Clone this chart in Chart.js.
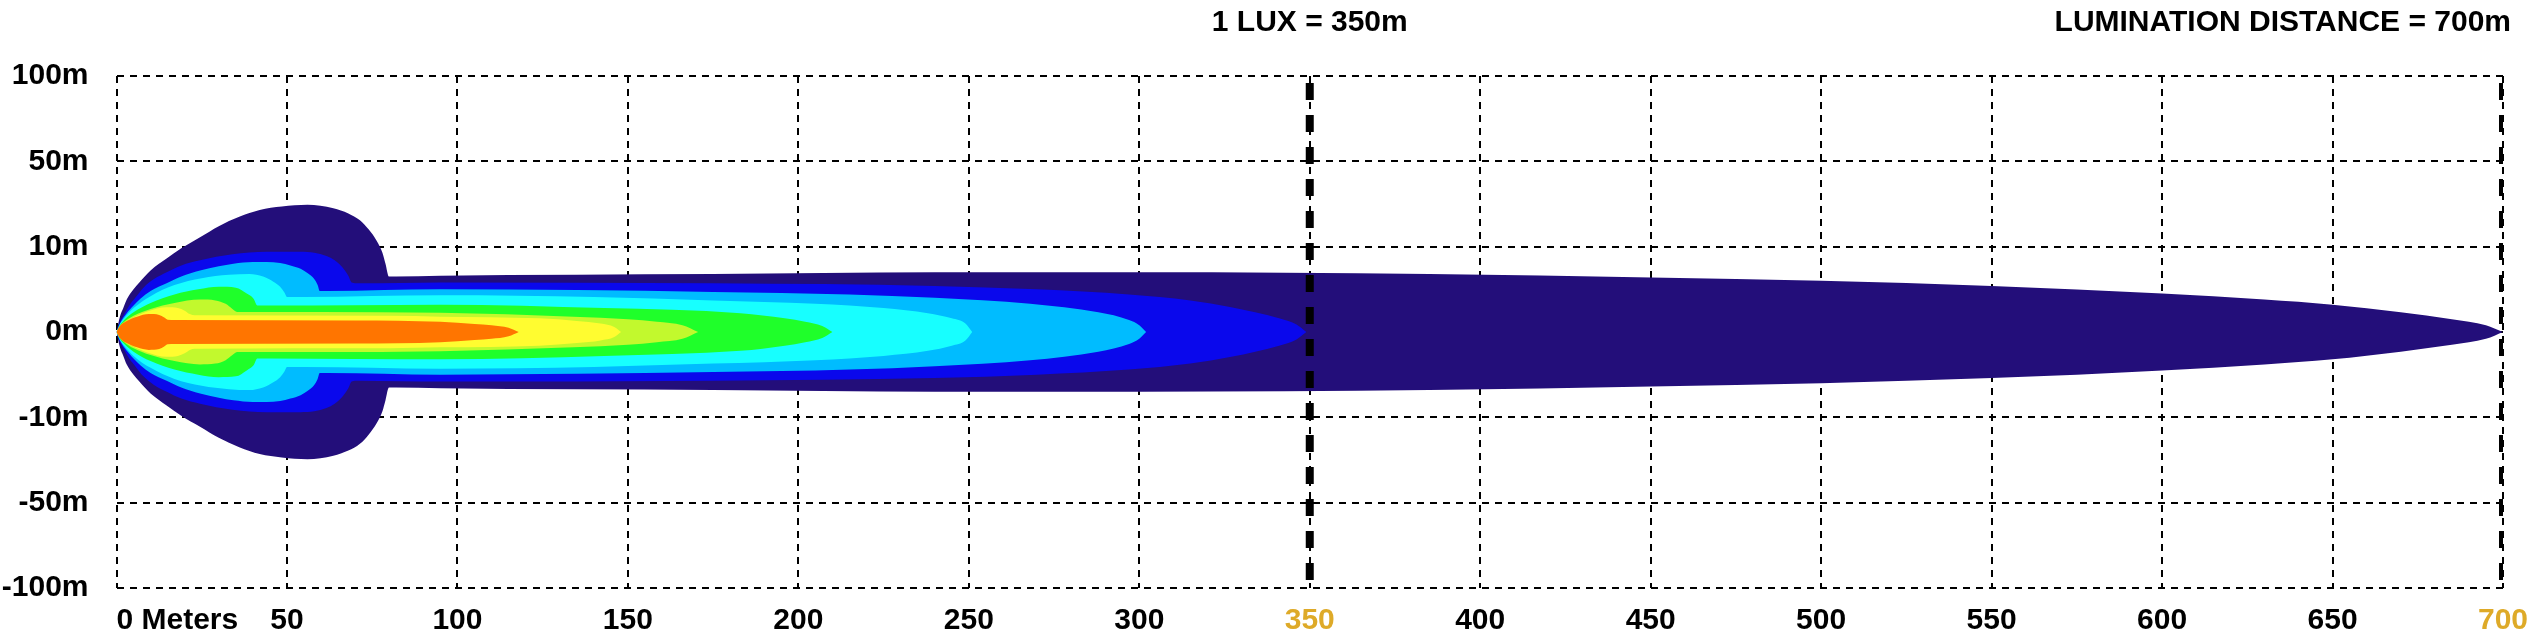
<!DOCTYPE html>
<html>
<head>
<meta charset="utf-8">
<script src="https://cdn.jsdelivr.net/npm/chart.js@4.4.1/dist/chart.umd.min.js"></script>
<style>
  html, body { margin: 0; padding: 0; background: #fff; }
</style>
</head>
<body>
<canvas id="beamChart" width="2534" height="640"></canvas>
<script>
// distance axis (m)
const xTicks = [0, 50, 100, 150, 200, 250, 300, 350, 400, 450, 500, 550, 600, 650, 700];
const xTickLabels = ["0 Meters", "50", "100", "150", "200", "250", "300", "350", "400", "450", "500", "550", "600", "650", "700"];
const highlightTicks = [350, 700];

// lateral axis: evenly spaced steps with their labels
const yTicks = [-3, -2, -1, 0, 1, 2, 3];
const yTickLabels = ["-100m", "-50m", "-10m", "0m", "10m", "50m", "100m"];

const luxDistance = 350;
const rangeDistance = 700;
const luxTitle = "1 LUX = 350m";
const rangeTitle = "LUMINATION DISTANCE = 700m";

// beam contours: [distance, half width in axis steps], outer to inner
const navyEdge = [
  [0, 0], [1, 0.18], [2, 0.28], [3, 0.38], [5, 0.5], [6.7, 0.58], [10, 0.72], [14.7, 0.86],
  [19, 0.98], [24.5, 1.11], [30, 1.24], [36, 1.35], [42, 1.43], [48.5, 1.47], [56, 1.49],
  [63.6, 1.45], [68, 1.39], [71.4, 1.31], [74, 1.2], [76.3, 1.07], [78, 0.93], [78.9, 0.8],
  [79.9, 0.65], [82, 0.65], [95, 0.66], [175, 0.68], [240, 0.7], [300, 0.7], [385, 0.68],
  [450, 0.64], [500, 0.6], [550, 0.54], [600, 0.45], [630, 0.38], [650, 0.32], [670, 0.23],
  [685, 0.15], [695, 0.08], [700, 0],
];
const blueEdge = [
  [0, 0], [1, 0.12], [2, 0.19], [3.9, 0.32], [5.5, 0.4], [7.9, 0.52], [11, 0.62], [14.7, 0.7],
  [19, 0.78], [24.5, 0.84], [34, 0.91], [44, 0.94], [54, 0.94], [58, 0.93], [61.6, 0.89],
  [64, 0.84], [65.5, 0.79], [67, 0.72], [68, 0.66], [69, 0.58], [71, 0.57], [95, 0.58],
  [175, 0.57], [240, 0.54], [270, 0.5], [297, 0.44], [315, 0.37], [327, 0.29], [341, 0.16],
  [346, 0.09], [349, 0],
];
const lightBlueEdge = [
  [0, 0], [1, 0.1], [3, 0.22], [5, 0.31], [7, 0.39], [10, 0.48], [14.7, 0.57], [19, 0.65],
  [24.5, 0.72], [30, 0.77], [34.3, 0.8], [40, 0.82], [44, 0.82], [48, 0.81], [51, 0.78],
  [54, 0.74], [56, 0.69], [58, 0.62], [59, 0.55], [59.6, 0.48], [62, 0.48], [95, 0.5],
  [175, 0.47], [215, 0.44], [240, 0.4], [268, 0.33], [288, 0.23], [297, 0.14], [300, 0.08],
  [302, 0],
];
const cyanEdge = [
  [0, 0], [1, 0.09], [2, 0.15], [5, 0.28], [10, 0.42], [17, 0.55], [25, 0.63], [33, 0.67],
  [39, 0.68], [43, 0.65], [46, 0.59], [48, 0.53], [49.3, 0.46], [50, 0.41], [55, 0.41],
  [95, 0.43], [140, 0.41], [175, 0.37], [205, 0.33], [225, 0.28], [238, 0.22], [245, 0.16],
  [249, 0.1], [251, 0],
];
const greenEdge = [
  [0, 0], [1, 0.08], [2, 0.13], [5, 0.23], [10, 0.34], [17, 0.44], [24, 0.5], [30, 0.53],
  [35, 0.52], [38.2, 0.45], [40.2, 0.39], [41.3, 0.31], [45, 0.31], [95, 0.32], [143, 0.28],
  [183, 0.22], [196, 0.16], [202, 0.12], [207, 0.07], [210, 0],
];
const limeEdge = [
  [0, 0], [1, 0.07], [2, 0.11], [5, 0.19], [10, 0.27], [17, 0.34], [24.5, 0.38], [29, 0.37],
  [32, 0.33], [34, 0.27], [35.5, 0.235], [60, 0.235], [95, 0.225], [134, 0.18], [150, 0.15],
  [158.5, 0.12], [166, 0.08], [170.6, 0],
];
const yellowEdge = [
  [0, 0], [1, 0.06], [2, 0.1], [5, 0.17], [9, 0.24], [14.7, 0.29], [18, 0.28], [20, 0.25],
  [21.5, 0.21], [23, 0.195], [80, 0.19], [95, 0.18], [124, 0.16], [135, 0.13], [142, 0.1],
  [146, 0.06], [148, 0],
];
const orangeEdge = [
  [0, 0], [1, 0.07], [3, 0.13], [6, 0.18], [9.5, 0.21], [12.5, 0.2], [14, 0.17], [15, 0.145],
  [17, 0.14], [70, 0.135], [95, 0.12], [105, 0.095], [110, 0.08], [115, 0.05], [118, 0],
];

const contours = [
  { color: "#230E7A", edge: navyEdge },
  { color: "#0A08EC", edge: blueEdge },
  { color: "#00BCFF", edge: lightBlueEdge },
  { color: "#17FFFF", edge: cyanEdge },
  { color: "#1FFF2A", edge: greenEdge },
  { color: "#C2F92D", edge: limeEdge },
  { color: "#FFFC30", edge: yellowEdge },
  { color: "#FF7500", edge: orangeEdge },
];

const fontFamily = '"Liberation Sans", Arial, sans-serif';
const gold = "#DEAA28";

/**
 * Builds the datasets: each contour is an upper edge filled down to its mirrored lower edge.
 */
function buildDatasets() {
  const datasets = [];
  contours.forEach((c, i) => {
    const order = 100 - i;
    datasets.push({
      data: c.edge.map(([x, h]) => ({ x: x, y: h })),
      fill: "+1",
      backgroundColor: c.color,
      borderColor: "rgba(0,0,0,0)",
      borderWidth: 0,
      pointRadius: 0,
      cubicInterpolationMode: "monotone",
      order: order,
    });
    datasets.push({
      data: c.edge.map(([x, h]) => ({ x: x, y: -h })),
      fill: false,
      borderColor: "rgba(0,0,0,0)",
      borderWidth: 0,
      pointRadius: 0,
      cubicInterpolationMode: "monotone",
      order: order,
    });
  });

  // thick dashed markers at 1 lux and full range
  highlightTicks.forEach((d) => {
    datasets.push({
      data: [{ x: d, y: yTicks[yTicks.length - 1] }, { x: d, y: yTicks[0] }],
      fill: false,
      borderColor: "#000",
      borderWidth: 8,
      borderDash: [17, 15],
      borderDashOffset: 25,
      pointRadius: 0,
      order: 0,
    });
  });
  return datasets;
}

const headerPlugin = {
  id: "headerText",
  afterDraw(chart) {
    const { ctx, scales } = chart;
    ctx.save();
    ctx.font = `bold 30px ${fontFamily}`;
    ctx.fillStyle = "#000";
    ctx.textBaseline = "alphabetic";
    ctx.textAlign = "center";
    ctx.fillText(luxTitle, scales.x.getPixelForValue(luxDistance), 31);
    ctx.textAlign = "right";
    ctx.fillText(rangeTitle, scales.x.getPixelForValue(rangeDistance) + 8, 31);
    ctx.restore();
  },
};

const tickFont = { family: fontFamily, size: 30, weight: "bold" };

new Chart(document.getElementById("beamChart"), {
  type: "line",
  data: { datasets: buildDatasets() },
  plugins: [headerPlugin],
  options: {
    responsive: false,
    animation: false,
    layout: { padding: { left: 2, top: 76, right: 31, bottom: 1 } },
    plugins: {
      legend: { display: false },
      tooltip: { enabled: false },
    },
    scales: {
      x: {
        type: "linear",
        min: xTicks[0],
        max: xTicks[xTicks.length - 1],
        afterBuildTicks: (scale) => {
          // trailing blank tick keeps "700" centred while "0 Meters" starts at the axis
          scale.ticks = xTicks.map((v) => ({ value: v })).concat([{ value: rangeDistance }]);
        },
        afterFit: (scale) => {
          scale.height = 51;
        },
        ticks: {
          autoSkip: false,
          maxRotation: 0,
          align: "inner",
          padding: 15,
          font: tickFont,
          color: (ctx) => (ctx.tick && highlightTicks.includes(ctx.tick.value) ? gold : "#000"),
          callback: (value, index) => (index < xTickLabels.length ? xTickLabels[index] : ""),
        },
        grid: { color: "#000", lineWidth: 2, drawTicks: false },
        border: { display: false, dash: [7, 6] },
      },
      y: {
        type: "linear",
        min: yTicks[0],
        max: yTicks[yTicks.length - 1],
        afterBuildTicks: (scale) => {
          scale.ticks = yTicks.map((v) => ({ value: v }));
        },
        afterFit: (scale) => {
          scale.width = 114.5;
        },
        ticks: {
          autoSkip: false,
          padding: 28,
          font: tickFont,
          color: "#000",
          callback: (value, index) => yTickLabels[index],
        },
        grid: { color: "#000", lineWidth: 2, drawTicks: false },
        border: { display: false, dash: [7, 6] },
      },
    },
  },
});
</script>
</body>
</html>
